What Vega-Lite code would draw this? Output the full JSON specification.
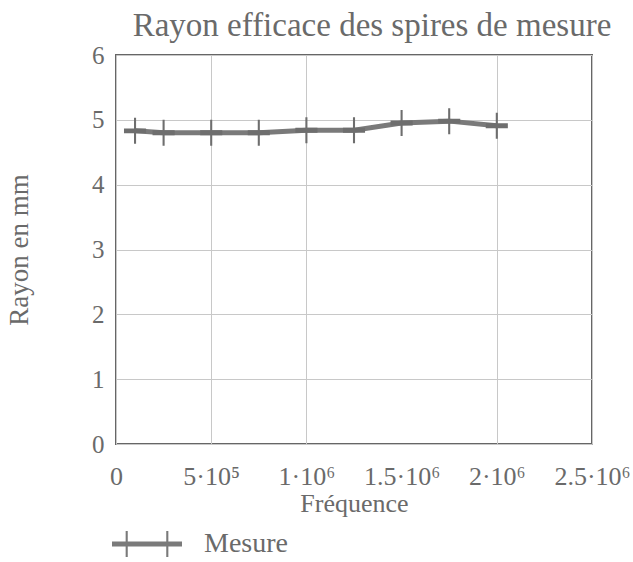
{
  "$schema": "https://vega.github.io/schema/vega-lite/v6.json",
  "autosize": "none",
  "width": 476,
  "height": 389,
  "padding": {"left": 116, "top": 55, "right": 41, "bottom": 118},
  "background": "white",
  "title": {
    "text": "Rayon efficace des spires de mesure",
    "font": "Liberation Serif",
    "fontSize": 33,
    "fontWeight": "normal",
    "color": "#6a6a6a",
    "anchor": "middle",
    "dx": 18,
    "offset": 0
  },
  "config": {
    "view": {"stroke": "#666666", "strokeWidth": 2},
    "axis": {
      "labelFont": "Liberation Serif",
      "titleFont": "Liberation Serif",
      "labelColor": "#6a6a6a",
      "titleColor": "#6a6a6a",
      "titleFontWeight": "normal",
      "domain": false,
      "ticks": false,
      "gridColor": "#c8c8c8",
      "gridWidth": 1
    },
    "legend": {
      "labelFont": "Liberation Serif",
      "labelColor": "#6a6a6a"
    }
  },
  "data": {
    "values": [
      {"f": 100000, "r": 4.83, "serie": "Mesure"},
      {"f": 250000, "r": 4.80, "serie": "Mesure"},
      {"f": 500000, "r": 4.80, "serie": "Mesure"},
      {"f": 750000, "r": 4.80, "serie": "Mesure"},
      {"f": 1000000, "r": 4.84, "serie": "Mesure"},
      {"f": 1250000, "r": 4.84, "serie": "Mesure"},
      {"f": 1500000, "r": 4.95, "serie": "Mesure"},
      {"f": 1750000, "r": 4.98, "serie": "Mesure"},
      {"f": 2000000, "r": 4.91, "serie": "Mesure"}
    ]
  },
  "encoding": {
    "x": {
      "field": "f",
      "type": "quantitative",
      "scale": {"domain": [0, 2500000], "nice": false},
      "axis": {
        "title": "Fréquence",
        "titleFontSize": 26,
        "titlePadding": 1,
        "labelFontSize": 26,
        "labelPadding": 19,
        "labelOverlap": false,
        "labelFlush": false,
        "values": [0, 500000, 1000000, 1500000, 2000000, 2500000],
        "labelExpr": "datum.value == 0 ? '0' : datum.value == 500000 ? '5·10⁵' : datum.value == 1000000 ? '1·10⁶' : datum.value == 1500000 ? '1.5·10⁶' : datum.value == 2000000 ? '2·10⁶' : '2.5·10⁶'",
        "gridOpacity": {"condition": {"test": "datum.value == 1500000", "value": 0}, "value": 1}
      }
    },
    "y": {
      "field": "r",
      "type": "quantitative",
      "scale": {"domain": [0, 6], "nice": false},
      "axis": {
        "title": "Rayon en mm",
        "titleFontSize": 27,
        "titlePadding": 58,
        "labelFontSize": 25,
        "labelPadding": 12,
        "labelOverlap": false,
        "values": [0, 1, 2, 3, 4, 5, 6],
        "labelFlush": false
      }
    }
  },
  "layer": [
    {
      "mark": {"type": "line", "strokeWidth": 5},
      "encoding": {
        "color": {
          "field": "serie",
          "type": "nominal",
          "scale": {"range": ["#7a7a7a"]},
          "legend": {
            "title": null,
            "orient": "none",
            "legendX": -4,
            "legendY": 454,
            "symbolType": "M-1,-0.07H1V0.07H-1Z M-0.61,-0.37H-0.55V0.37H-0.61Z M0.55,-0.37H0.61V0.37H0.55Z",
            "symbolSize": 4900,
            "labelFontSize": 28,
            "labelOffset": 22,
            "encode": {
              "symbols": {"update": {"fill": {"value": "#7a7a7a"}, "strokeWidth": {"value": 0}, "opacity": {"value": 1}}}
            }
          }
        }
      }
    },
    {
      "mark": {
        "type": "point",
        "shape": "M-0.08,-1H0.08V1H-0.08Z M-0.85,-0.19H0.85V0.19H-0.85Z",
        "size": 676,
        "filled": true,
        "color": "#6e6e6e",
        "opacity": 1,
        "strokeWidth": 0
      }
    }
  ]
}
